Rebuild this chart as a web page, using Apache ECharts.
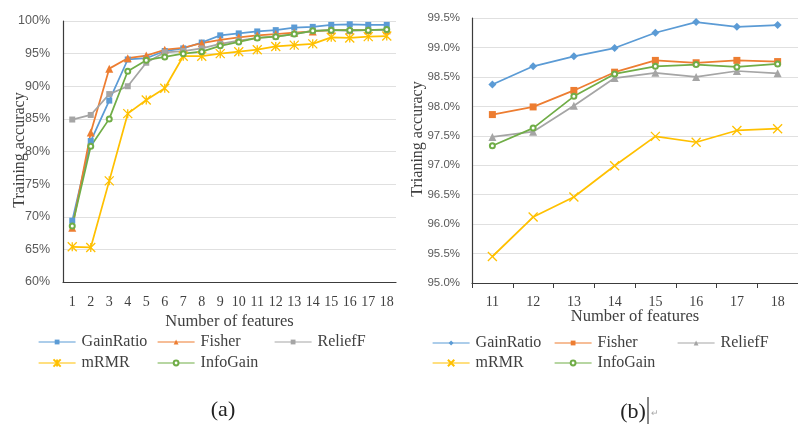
<!DOCTYPE html>
<html>
<head>
<meta charset="utf-8">
<script src="https://cdn.jsdelivr.net/npm/echarts@6/dist/echarts.min.js"></script>
<style>
html,body{margin:0;padding:0;background:#fff;}
#wrap{position:relative;width:798px;height:424px;overflow:hidden;}
#ca{position:absolute;left:0;top:0;width:400px;height:424px;}
#cb{position:absolute;left:400px;top:0;width:398px;height:424px;}
</style>
</head>
<body>
<div id="wrap"><div id="ca"></div><div id="cb"></div></div>
<script>
// ---- data: chart (a) ----
const catsA = ['1','2','3','4','5','6','7','8','9','10','11','12','13','14','15','16','17','18'];
const gainRatioA = [69.4, 81.6, 87.8, 94.1, 94.3, 95.4, 95.8, 96.7, 97.8, 98.1, 98.4, 98.6, 99.0, 99.1, 99.4, 99.5, 99.4, 99.4];
const fisherA    = [68.3, 82.9, 92.7, 94.3, 94.7, 95.6, 95.9, 96.6, 97.1, 97.5, 97.8, 98.0, 98.2, 98.4, 98.6, 98.6, 98.6, 98.6];
const reliefFA   = [84.9, 85.6, 88.8, 90.0, 93.6, 95.2, 95.4, 95.8, 96.5, 97.0, 97.4, 97.6, 98.0, 98.5, 98.6, 98.5, 98.6, 98.6];
const mrmrA      = [65.4, 65.3, 75.5, 85.8, 87.9, 89.7, 94.6, 94.6, 95.0, 95.3, 95.6, 96.1, 96.3, 96.5, 97.5, 97.4, 97.6, 97.7];
const infoGainA  = [68.6, 80.8, 85.0, 92.3, 94.0, 94.5, 95.0, 95.3, 96.2, 96.8, 97.4, 97.6, 98.0, 98.5, 98.6, 98.6, 98.6, 98.7];
// ---- data: chart (b) ----
const catsB = ['11','12','13','14','15','16','17','18'];
const gainRatioB = [98.37, 98.68, 98.85, 98.99, 99.25, 99.43, 99.35, 99.38];
const fisherB    = [97.86, 97.99, 98.27, 98.58, 98.78, 98.74, 98.78, 98.76];
const reliefFB   = [97.48, 97.57, 98.01, 98.48, 98.57, 98.50, 98.60, 98.56];
const mrmrB      = [95.45, 96.12, 96.46, 96.99, 97.49, 97.39, 97.59, 97.62];
const infoGainB  = [97.33, 97.63, 98.17, 98.55, 98.68, 98.71, 98.67, 98.72];
const seriesNames = ['GainRatio','Fisher','ReliefF','mRMR','InfoGain'];
const yTicksA = {min:60, max:100, interval:5};
const yTicksB = {min:95, max:99.5, interval:0.5};

const colors = ['#5B9BD5','#ED7D31','#A5A5A5','#FFC000','#70AD47'];
const SERIF = '"Liberation Serif", "DejaVu Serif", serif';
const SANS = '"Liberation Sans", Arial, sans-serif';
const TXT = '#404040';
const STAR = 'path://M0,0L10,10M10,0L0,10M5,0L5,10';
const CROSS = 'path://M0,0L10,10M10,0L0,10';

function mkSeries(name, data, color, symbol, size) {
  const stroked = symbol.indexOf('path://') === 0;
  return {
    name, type:'line', data, symbol, symbolSize:size,
    lineStyle:{color, width:1.75},
    itemStyle: stroked ? {color:'rgba(0,0,0,0)', borderColor:color, borderWidth:1.3}
                       : {color, borderColor:color, borderWidth: symbol==='emptyCircle'?1:0},
    emphasis:{disabled:true}, animation:false, z: 2
  };
}
function mkLegend(name, left, top, h) {
  return {
    data:[name], left, top, orient:'horizontal', padding:0, itemGap:0,
    itemWidth:37, itemHeight:h || 6, selectedMode:false,
    lineStyle:{width:1.2},
    textStyle:{fontFamily:SERIF, fontSize:16, color:TXT, lineHeight:18, padding:[0,0,0,1]}
  };
}

// ---------- chart (a) ----------
const chartA = echarts.init(document.getElementById('ca'), null, {renderer:'canvas'});
const symA = ['rect','triangle','rect',STAR,'emptyCircle'];
const sizeA = [6,8,6,9,5];
const dataA = [gainRatioA, fisherA, reliefFA, mrmrA, infoGainA];
chartA.setOption({
  animation:false,
  backgroundColor:'#fff',
  grid:{left:63, top:21, width:333, height:261, containLabel:false},
  xAxis:{
    type:'category', data:catsA, boundaryGap:true,
    axisLine:{lineStyle:{color:'#3c3c3c', width:1.2}},
    axisTick:{show:false},
    axisLabel:{interval:0, hideOverlap:false, fontFamily:SERIF, fontSize:14, color:TXT, margin:13},
    name:'Number of features', nameLocation:'middle', nameGap:31, nameMoveOverlap:false,
    nameTextStyle:{fontFamily:SERIF, fontSize:16.5, color:TXT}
  },
  yAxis:{
    type:'value', min:yTicksA.min, max:yTicksA.max, interval:yTicksA.interval,
    axisLine:{show:true, lineStyle:{color:'#3c3c3c', width:1.2}},
    axisTick:{show:false},
    splitLine:{lineStyle:{color:'#e0e0e0', width:1}},
    axisLabel:{formatter:'{value}%', fontFamily:SANS, fontSize:12.5, color:'#595959', margin:13}
  },
  legend:[
    mkLegend('GainRatio', 38, 333),
    mkLegend('Fisher', 157, 333),
    mkLegend('ReliefF', 274, 333),
    mkLegend('mRMR', 38, 354, 9),
    mkLegend('InfoGain', 157, 354)
  ],
  graphic:[
    {type:'text', x:20, y:150, rotation:Math.PI/2,
     style:{text:'Training accuracy', fontFamily:SERIF, fontSize:16, fill:TXT, align:'center', verticalAlign:'middle'}},
    {type:'text', x:223, y:410,
     style:{text:'(a)', fontFamily:SERIF, fontSize:22, fill:'#222', align:'center', verticalAlign:'middle'}}
  ],
  series: seriesNames.map((n,i)=>mkSeries(n, dataA[i], colors[i], symA[i], sizeA[i]))
});

// ---------- chart (b) ----------
const chartB = echarts.init(document.getElementById('cb'), null, {renderer:'canvas'});
const symB = ['diamond','rect','triangle',CROSS,'emptyCircle'];
const sizeB = [8,7,8,9,5];
const dataB = [gainRatioB, fisherB, reliefFB, mrmrB, infoGainB];
chartB.setOption({
  animation:false,
  backgroundColor:'#fff',
  grid:{left:72, top:18, width:330, height:265, containLabel:false},
  xAxis:{
    type:'category', data:catsB, boundaryGap:true,
    axisLine:{lineStyle:{color:'#3c3c3c', width:1.2}},
    axisTick:{show:true, length:5, lineStyle:{color:'#3c3c3c'}},
    axisLabel:{interval:0, fontFamily:SERIF, fontSize:14, color:TXT, margin:12},
    name:'Number of features', nameLocation:'middle', nameGap:25, nameMoveOverlap:false,
    nameTextStyle:{fontFamily:SERIF, fontSize:16.5, color:TXT}
  },
  yAxis:{
    type:'value', min:yTicksB.min, max:yTicksB.max, interval:yTicksB.interval,
    axisLine:{show:true, lineStyle:{color:'#3c3c3c', width:1.2}},
    axisTick:{show:false},
    splitLine:{lineStyle:{color:'#e0e0e0', width:1}},
    axisLabel:{formatter:v=>v.toFixed(1)+'%', fontFamily:SANS, fontSize:11.5, color:'#595959', margin:12}
  },
  legend:[
    mkLegend('GainRatio', 32, 334),
    mkLegend('Fisher', 154, 334),
    mkLegend('ReliefF', 277, 334),
    mkLegend('mRMR', 32, 354, 8),
    mkLegend('InfoGain', 154, 354)
  ],
  graphic:[
    {type:'text', x:18, y:139, rotation:Math.PI/2,
     style:{text:'Trianing accuracy', fontFamily:SERIF, fontSize:16, fill:TXT, align:'center', verticalAlign:'middle'}},
    {type:'text', x:233, y:412,
     style:{text:'(b)', fontFamily:SERIF, fontSize:22, fill:'#222', align:'center', verticalAlign:'middle'}},
    {type:'line', shape:{x1:248, y1:397, x2:248, y2:424}, style:{stroke:'#111', lineWidth:1}},
    {type:'text', x:251, y:414,
     style:{text:'↵', fontFamily:SANS, fontSize:9, fill:'#aaa', align:'left', verticalAlign:'middle'}}
  ],
  series: seriesNames.map((n,i)=>mkSeries(n, dataB[i], colors[i], symB[i], sizeB[i]))
});
</script>
</body>
</html>
